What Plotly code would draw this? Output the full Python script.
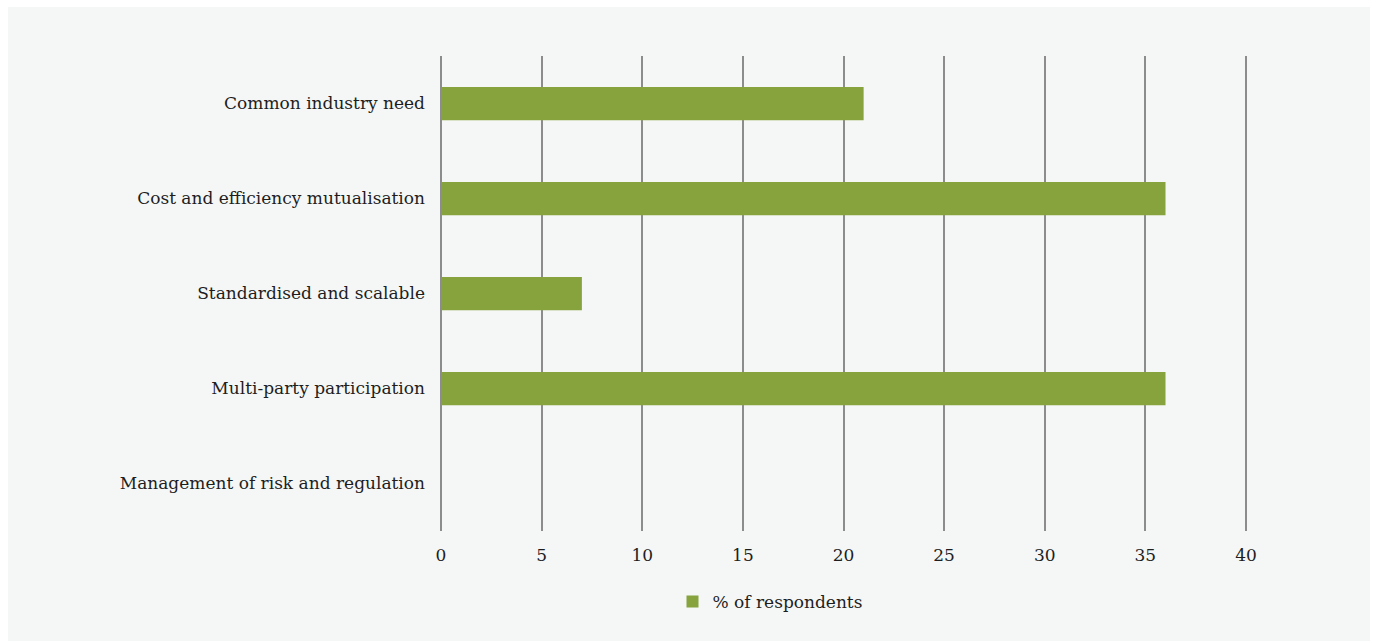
import plotly.graph_objects as go

categories = [
    "Common industry need",
    "Cost and efficiency mutualisation",
    "Standardised and scalable",
    "Multi-party participation",
    "Management of risk and regulation",
]
values = [21, 36, 7, 36, 0]
series_name = "% of respondents"
tick_vals = [0, 5, 10, 15, 20, 25, 30, 35, 40]

W, H = 1375, 641
L, R, T, B = 440, 128, 56, 110
pw, ph = W - L - R, H - T - B

def px_x(p):
    return (p - L) / pw

def px_y(p):
    return (H - B - p) / ph

fig = go.Figure()
fig.add_trace(go.Bar(
    y=categories,
    x=values,
    orientation="h",
    name=series_name,
    marker=dict(color="#86a33e", line=dict(width=0)),
))

fig.update_layout(
    width=W, height=H,
    margin=dict(l=L, r=R, t=T, b=B, pad=0),
    paper_bgcolor="white",
    plot_bgcolor="rgba(0,0,0,0)",
    font=dict(family="DejaVu Serif", size=17, color="#1e1e1e"),
    bargap=0.65,
    showlegend=True,
    legend=dict(orientation="h", x=px_x(770), xanchor="center", y=px_y(602), yanchor="middle",
                font=dict(size=17), bgcolor="rgba(0,0,0,0)"),
    xaxis=dict(range=[-0.05, 40.05], tickvals=tick_vals, showgrid=True, gridcolor="#8c8c8c",
               gridwidth=1.5, zeroline=False, showline=False, ticks="", ticklen=0,
               ticklabelstandoff=12, tickfont=dict(size=17), fixedrange=True),
    yaxis=dict(categoryorder="array", categoryarray=categories[::-1], showgrid=False,
               zeroline=False, showline=False, ticks="", ticklabelstandoff=14,
               tickfont=dict(size=17)),
    shapes=[dict(type="rect", xref="paper", yref="paper", layer="below",
                 x0=px_x(8), x1=px_x(1370), y0=px_y(641), y1=px_y(7),
                 fillcolor="#f5f7f6", line=dict(width=0))],
)

fig.write_html("out.html")
